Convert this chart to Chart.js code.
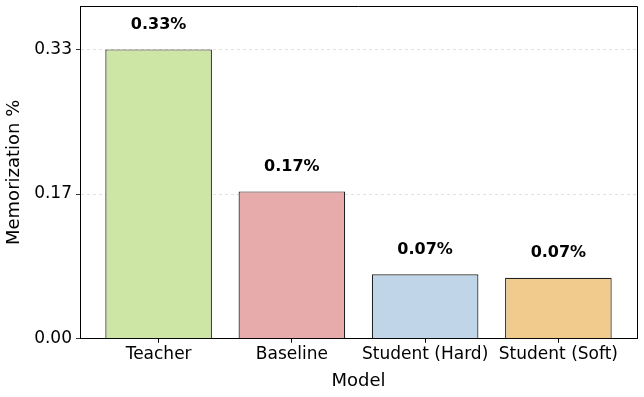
<!DOCTYPE html>
<html>
<head>
<meta charset="utf-8">
<script src="https://cdn.jsdelivr.net/npm/chart.js@4.4.0/dist/chart.umd.min.js"></script>
<style>
  html, body { margin: 0; padding: 0; background: #fff; }
  #wrap { width: 644px; height: 397px; }
</style>
</head>
<body>
<div id="wrap"><canvas id="my-chart"></canvas></div>
<script>
'use strict';

// *************** DATA
let models = ['Teacher', 'Baseline', 'Student (Hard)', 'Student (Soft)'];
let memorization = [0.33, 0.168, 0.0734, 0.0696];
let valueLabels = ['0.33%', '0.17%', '0.07%', '0.07%'];
let yTickValues = [0, 0.165, 0.33];
let yTickLabels = ['0.00', '0.17', '0.33'];

// *************** STYLE
let barColors = ['#cde5a5', '#e8abab', '#c0d6e8', '#f1ca8e'];
let fontFamily = '"DejaVu Sans", sans-serif';

// build {x, y} points so the x axis can be linear (matplotlib-like margins)
let points = [];
for (let i = 0; i < models.length; i++) {
  points.push({ x: i, y: memorization[i] });
}

// ******* PLUGINS
const barLabels = {
  id: 'barLabels',
  afterDatasetsDraw(chart) {
    let ctx = chart.ctx;
    let meta = chart.getDatasetMeta(0);
    ctx.save();
    ctx.font = 'bold 16px ' + fontFamily;
    ctx.fillStyle = '#000';
    ctx.textAlign = 'center';
    ctx.textBaseline = 'middle';
    meta.data.forEach((bar, i) => {
      ctx.fillText(valueLabels[i], bar.x, bar.y - 25);
    });
    ctx.restore();
  }
};

// top + right spines
const frame = {
  id: 'frame',
  afterDraw(chart) {
    let { ctx, chartArea: a } = chart;
    ctx.save();
    ctx.strokeStyle = '#000';
    ctx.lineWidth = 1;
    ctx.beginPath();
    ctx.moveTo(a.left, a.top + 0.5);
    ctx.lineTo(a.right + 0.5, a.top + 0.5);
    ctx.lineTo(a.right + 0.5, a.bottom);
    ctx.stroke();
    ctx.restore();
  }
};

let chartObj = {
  type: 'bar',
  data: {
    datasets: [{
      data: points,
      backgroundColor: barColors,
      borderColor: '#222',
      borderWidth: 1.2,
      barPercentage: 0.8,
      categoryPercentage: 1.0
    }]
  },
  options: {
    responsive: true,
    maintainAspectRatio: false,
    animation: false,
    layout: { padding: { top: 6, right: 7, left: 0, bottom: 0 } },
    plugins: {
      legend: { display: false },
      tooltip: { enabled: false }
    },
    scales: {
      x: {
        type: 'linear',
        offset: false,
        min: -0.59,
        max: 3.59,
        afterBuildTicks(scale) {
          scale.ticks = models.map((m, i) => ({ value: i }));
        },
        afterFit(scale) {
          scale.height = 58.3;
          scale.paddingLeft = 0;
          scale.paddingRight = 0;
        },
        ticks: {
          color: '#000',
          font: { family: fontFamily, size: 17 },
          padding: 2,
          maxRotation: 0,
          autoSkip: false,
          callback: (v) => models[v]
        },
        grid: {
          offset: false,
          drawOnChartArea: false,
          drawTicks: true,
          tickLength: 4,
          tickColor: '#000'
        },
        border: { color: '#000', width: 1 },
        title: {
          display: true,
          text: 'Model',
          color: '#000',
          font: { family: fontFamily, size: 18 },
          padding: { top: 0, bottom: 5 }
        }
      },
      y: {
        min: 0,
        max: 0.3795,
        afterBuildTicks(scale) {
          scale.ticks = yTickValues.map(v => ({ value: v }));
        },
        afterFit(scale) {
          scale.width = 80;
          scale.paddingTop = 0;
          scale.paddingBottom = 0;
        },
        ticks: {
          color: '#000',
          font: { family: fontFamily, size: 17 },
          padding: 4,
          callback: (v, i) => yTickLabels[i]
        },
        grid: {
          color: 'rgba(0,0,0,0.15)',
          lineWidth: 0.8,
          tickLength: 4,
          tickColor: '#000',
          tickBorderDash: []
        },
        border: { color: '#000', width: 1, dash: [3, 3] },
        title: {
          display: true,
          text: 'Memorization %',
          color: '#000',
          font: { family: fontFamily, size: 18 },
          padding: { top: 4, bottom: 0 }
        }
      }
    }
  },
  plugins: [barLabels, frame]
};

let ctx = document.getElementById('my-chart').getContext('2d');
let myChart = new Chart(ctx, chartObj);
</script>
</body>
</html>
